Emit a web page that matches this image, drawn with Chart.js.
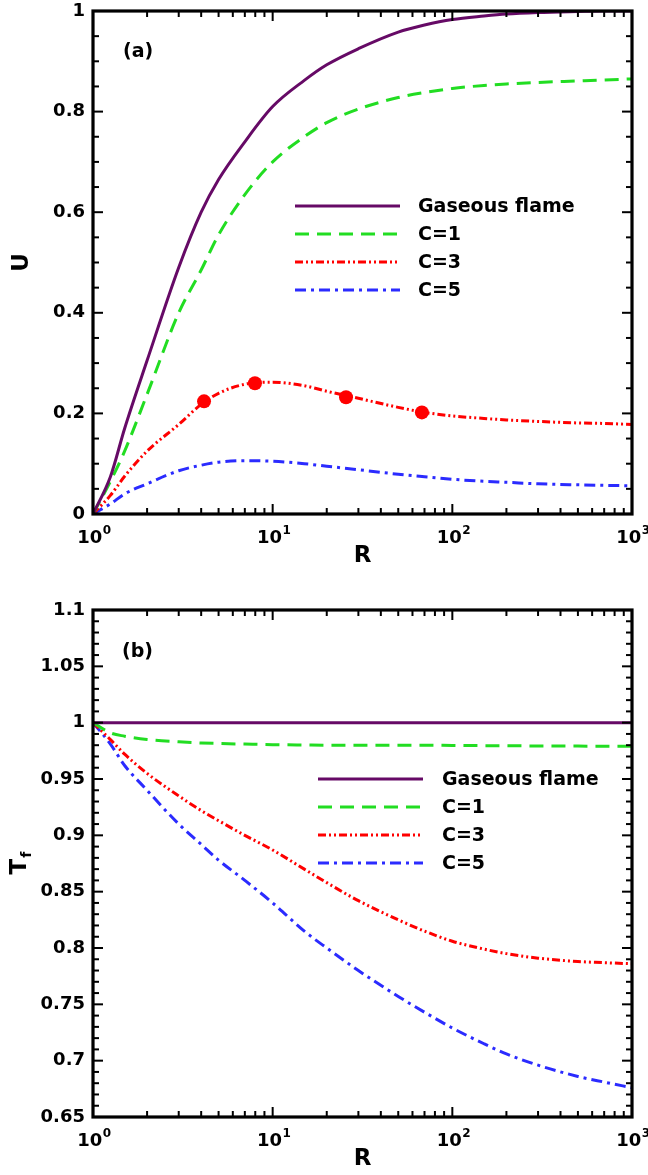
<!DOCTYPE html>
<html><head><meta charset="utf-8">
<script src="https://cdn.jsdelivr.net/npm/chart.js@4.4.0/dist/chart.umd.min.js"></script>
<style>
html,body{margin:0;padding:0;background:#fff;overflow:hidden;}
#w1{position:absolute;left:0;top:-9px;width:648px;height:594px;}
#w2{position:absolute;left:0;top:585px;width:648px;height:590px;}
canvas{display:block;}
</style></head><body>
<div id="w1"><canvas id="c1" width="648" height="594"></canvas></div>
<div id="w2"><canvas id="c2" width="648" height="590"></canvas></div>
<script>
// ---------- data ----------
const R      = [1, 1.25, 1.5, 2, 3, 4, 5, 7, 10, 15, 20, 30, 50, 70, 100, 150, 200, 300, 500, 700, 1000];
const U_gas  = [0, 0.074, 0.17, 0.305, 0.49, 0.6, 0.665, 0.74, 0.81, 0.862, 0.893, 0.925, 0.958, 0.972, 0.983, 0.99, 0.994, 0.997, 0.999, 1.0, 1.0];
const U_C1   = [0, 0.065, 0.125, 0.238, 0.4, 0.485, 0.555, 0.635, 0.70, 0.75, 0.778, 0.805, 0.828, 0.838, 0.846, 0.852, 0.855, 0.858, 0.861, 0.863, 0.865];
const U_C3   = [0, 0.037, 0.075, 0.125, 0.178, 0.218, 0.24, 0.258, 0.262, 0.255, 0.244, 0.23, 0.212, 0.202, 0.195, 0.19, 0.187, 0.184, 0.181, 0.18, 0.178];
const U_C5   = [0, 0.02, 0.04, 0.06, 0.086, 0.097, 0.103, 0.106, 0.105, 0.1, 0.095, 0.088, 0.079, 0.074, 0.069, 0.065, 0.063, 0.06, 0.058, 0.057, 0.056];
const markR  = [4.15, 7.97, 25.6, 67.7];
const markU  = [0.224, 0.26, 0.232, 0.202];
const T_gas  = [1, 1, 1, 1, 1, 1, 1, 1, 1, 1, 1, 1, 1, 1, 1, 1, 1, 1, 1, 1, 1];
const T_C1   = [1, 0.991, 0.988, 0.985, 0.983, 0.982, 0.9815, 0.981, 0.9805, 0.9802, 0.98, 0.98, 0.98, 0.98, 0.9798, 0.9796, 0.9795, 0.9793, 0.9792, 0.9791, 0.979];
const T_C3   = [1, 0.985, 0.972, 0.955, 0.935, 0.922, 0.913, 0.9, 0.887, 0.87, 0.858, 0.842, 0.825, 0.815, 0.806, 0.799, 0.795, 0.791, 0.788, 0.787, 0.786];
const T_C5   = [1, 0.981, 0.962, 0.94, 0.91, 0.892, 0.878, 0.86, 0.84, 0.815, 0.8, 0.78, 0.757, 0.743, 0.729, 0.715, 0.706, 0.696, 0.686, 0.681, 0.676];
const seriesNames = ['Gaseous flame', 'C=1', 'C=3', 'C=5'];
const xTickValues = [1, 10, 100, 1000];
const xTickExp    = ['0', '1', '2', '3'];
const yTicksU = [0, 0.2, 0.4, 0.6, 0.8, 1];
const yTicksT = [0.65, 0.7, 0.75, 0.8, 0.85, 0.9, 0.95, 1, 1.05, 1.1];

// ---------- styles ----------
const FONT = '"DejaVu Sans", sans-serif';
const COLORS = ['#660a66', '#22dd22', '#ff0000', '#2b2bff'];
const DASHES = [[], [14, 8], [8, 3, 2, 3, 2, 3], [11, 5, 3, 5]];

function pts(xs, ys) { return xs.map((x, i) => ({ x: x, y: ys[i] })); }

function lineDatasets(series) {
  return series.map((s, i) => ({
    label: seriesNames[i],
    data: pts(R, s),
    borderColor: COLORS[i],
    backgroundColor: COLORS[i],
    borderWidth: 3,
    borderDash: DASHES[i],
    borderCapStyle: 'butt',
    pointRadius: 0,
    cubicInterpolationMode: 'monotone',
    fill: false
  }));
}

const decor = {
  id: 'decor',
  afterDatasetsDraw(chart, args, o) {
    const { ctx, chartArea: a, scales: { x, y } } = chart;
    ctx.save();
    ctx.strokeStyle = '#000';
    ctx.fillStyle = '#000';
    ctx.lineWidth = 2;
    ctx.setLineDash([]);
    const ln = (x1, y1, x2, y2) => { ctx.beginPath(); ctx.moveTo(x1, y1); ctx.lineTo(x2, y2); ctx.stroke(); };
    // x ticks (log) on bottom and top
    for (let d = 0; d < 3; d++) {
      for (let m = 1; m <= 9; m++) {
        const v = m * Math.pow(10, d);
        if (v <= 1) continue;
        const px = x.getPixelForValue(v);
        const len = m === 1 ? 10 : 6;
        ln(px, a.bottom, px, a.bottom - len);
        ln(px, a.top, px, a.top + len);
      }
    }
    // y ticks left and right
    const nMinor = Math.round((o.yMax - o.yMin) / o.minorStep);
    for (let k = 1; k < nMinor; k++) {
      const v = o.yMin + k * o.minorStep;
      const isMajor = Math.abs(v / o.majorStep - Math.round(v / o.majorStep)) < 1e-6;
      const py = y.getPixelForValue(v);
      const len = isMajor ? 10 : 6;
      ln(a.left, py, a.left + len, py);
      ln(a.right, py, a.right - len, py);
    }
    // frame
    ctx.lineWidth = 3.2;
    ctx.strokeRect(a.left, a.top, a.right - a.left, a.bottom - a.top);

    // x tick labels 10^n
    ctx.textBaseline = 'alphabetic';
    ctx.textAlign = 'left';
    xTickValues.forEach((v, i) => {
      const px = x.getPixelForValue(v);
      ctx.font = 'bold 18px ' + FONT;
      const w1 = ctx.measureText('10').width;
      ctx.font = 'bold 12px ' + FONT;
      const w2 = ctx.measureText(xTickExp[i]).width;
      const left = px - (w1 + w2) / 2 + 1;
      ctx.font = 'bold 18px ' + FONT;
      ctx.fillText('10', left, a.bottom + 29);
      ctx.font = 'bold 12px ' + FONT;
      ctx.fillText(xTickExp[i], left + w1 + 0.5, a.bottom + 20);
    });
    // x title
    ctx.textAlign = 'center';
    ctx.font = 'bold 23px ' + FONT;
    ctx.fillText('R', (a.left + a.right) / 2, a.bottom + 48);
    // y title
    ctx.save();
    ctx.translate(o.yTitleX, (a.top + a.bottom) / 2);
    ctx.rotate(-Math.PI / 2);
    ctx.textAlign = 'left';
    ctx.textBaseline = 'middle';
    ctx.font = 'bold 23px ' + FONT;
    const wm = ctx.measureText(o.yTitle).width;
    let ws = 0;
    if (o.yTitleSub) { ctx.font = 'bold 14px ' + FONT; ws = ctx.measureText(o.yTitleSub).width; }
    const start = -(wm + ws) / 2;
    ctx.font = 'bold 23px ' + FONT;
    ctx.fillText(o.yTitle, start, 0);
    if (o.yTitleSub) { ctx.font = 'bold 14px ' + FONT; ctx.fillText(o.yTitleSub, start + wm + 1, 7); }
    ctx.restore();
    // panel label
    ctx.textAlign = 'left';
    ctx.textBaseline = 'alphabetic';
    ctx.font = 'bold 19px ' + FONT;
    ctx.fillText(o.panel, o.panelX, o.panelY);
    // legend
    const lg = o.legend;
    let row = 0;
    chart.data.datasets.forEach(ds => {
      if (ds.showInLegend === false) return;
      const yy = lg.y + row * lg.dy;
      ctx.strokeStyle = ds.borderColor;
      ctx.lineWidth = 3;
      ctx.setLineDash(ds.borderDash || []);
      ln(lg.x1, yy, lg.x2, yy);
      ctx.setLineDash([]);
      ctx.fillStyle = '#000';
      ctx.font = 'bold 19px ' + FONT;
      ctx.textBaseline = 'middle';
      ctx.fillText(ds.label, lg.tx, yy + 1);
      row++;
    });
    ctx.restore();
  }
};

function makeChart(id, datasets, cfg) {
  return new Chart(document.getElementById(id), {
    type: 'line',
    data: { datasets: datasets },
    options: {
      responsive: false,
      animation: false,
      devicePixelRatio: 1,
      parsing: true,
      layout: { padding: { top: cfg.top, right: 16, left: 0, bottom: 0 } },
      plugins: { legend: { display: false }, tooltip: { enabled: false }, decor: cfg.decor },
      scales: {
        x: {
          type: 'logarithmic', min: 1, max: 1000,
          afterBuildTicks: s => { s.ticks = xTickValues.map(v => ({ value: v })); },
          ticks: { display: false },
          grid: { display: false, drawTicks: false },
          border: { display: false },
          afterFit: s => { s.height = cfg.H - cfg.bottom; }
        },
        y: {
          type: 'linear', min: cfg.decor.yMin, max: cfg.decor.yMax,
          afterBuildTicks: s => { s.ticks = cfg.yTicks.map(v => ({ value: v })); },
          ticks: {
            color: '#000', padding: 8,
            font: { family: FONT, size: 18, weight: 'bold' },
            callback: v => String(+(+v).toFixed(2))
          },
          grid: { display: false, drawTicks: false },
          border: { display: false },
          afterFit: s => { s.width = 93; }
        }
      }
    },
    plugins: [decor]
  });
}

// ---------- chart (a) ----------
const dsA = lineDatasets([U_gas, U_C1, U_C3, U_C5]);
dsA.push({
  label: 'C=3 markers', showInLegend: false,
  data: pts(markR, markU), showLine: false,
  pointRadius: 7, pointBackgroundColor: '#ff0000', pointBorderColor: '#ff0000', pointBorderWidth: 0,
  borderColor: '#ff0000', backgroundColor: '#ff0000'
});
makeChart('c1', dsA, {
  H: 594, top: 20, bottom: 523, yTicks: yTicksU,
  decor: { yMin: 0, yMax: 1, minorStep: 0.05, majorStep: 0.2, yTitle: 'U', yTitleX: 22,
    panel: '(a)', panelX: 123, panelY: 66,
    legend: { x1: 295, x2: 400, tx: 418, y: 215, dy: 28 } }
});

// ---------- chart (b) ----------
const dsB = lineDatasets([T_gas, T_C1, T_C3, T_C5]);
makeChart('c2', dsB, {
  H: 590, top: 25, bottom: 532, yTicks: yTicksT,
  decor: { yMin: 0.65, yMax: 1.1, minorStep: 0.01, majorStep: 0.05, yTitle: 'T', yTitleSub: 'f', yTitleX: 20,
    panel: '(b)', panelX: 122, panelY: 72,
    legend: { x1: 318, x2: 423, tx: 442, y: 194, dy: 28 } }
});
</script>
</body></html>
